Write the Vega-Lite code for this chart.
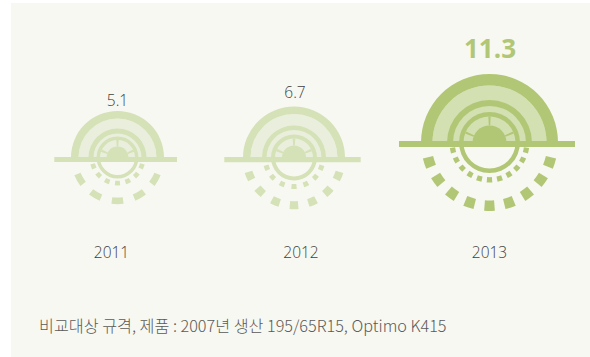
{"$schema":"https://vega.github.io/schema/vega-lite/v6.json","width":590,"height":357,"autosize":{"type":"fit","contains":"padding"},"padding":0,"background":"#ffffff","config":{"view":{"stroke":null}},
"datasets":{
"panel":[{"x0":11,"x1":590,"y0":3,"y1":357}],
"arcs":[
{"year":2011,"part":"fill","cx":117.5,"cy":157.5,"from":-90,"to":90,"inner":0,"outer":39,"tone":"pale"},
{"year":2011,"part":"band","cx":117.5,"cy":157.5,"from":-90,"to":90,"inner":39,"outer":46.5,"tone":"mid"},
{"year":2011,"part":"ring","cx":117.5,"cy":157.5,"from":-90,"to":90,"inner":24,"outer":29,"tone":"mid"},
{"year":2011,"part":"circle","cx":117.5,"cy":157.5,"from":-180,"to":180,"inner":17.5,"outer":21,"tone":"mid"},
{"year":2011,"part":"hub","cx":117.5,"cy":157.5,"from":-90,"to":90,"inner":0,"outer":11,"tone":"mid"},
{"year":2011,"part":"spoke","cx":117.5,"cy":157.5,"from":-71,"to":-63,"inner":11,"outer":17.5,"tone":"mid"},
{"year":2011,"part":"spoke","cx":117.5,"cy":157.5,"from":-4,"to":4,"inner":11,"outer":17.5,"tone":"mid"},
{"year":2011,"part":"spoke","cx":117.5,"cy":157.5,"from":63,"to":71,"inner":11,"outer":17.5,"tone":"mid"},
{"year":2011,"part":"big","cx":117.5,"cy":157.5,"from":112.5,"to":127.5,"inner":40,"outer":46.7,"tone":"mid"},
{"year":2011,"part":"big","cx":117.5,"cy":157.5,"from":142.5,"to":157.5,"inner":40,"outer":46.7,"tone":"mid"},
{"year":2011,"part":"big","cx":117.5,"cy":157.5,"from":172.5,"to":187.5,"inner":40,"outer":46.7,"tone":"mid"},
{"year":2011,"part":"big","cx":117.5,"cy":157.5,"from":202.5,"to":217.5,"inner":40,"outer":46.7,"tone":"mid"},
{"year":2011,"part":"big","cx":117.5,"cy":157.5,"from":232.5,"to":247.5,"inner":40,"outer":46.7,"tone":"mid"},
{"year":2011,"part":"small","cx":117.5,"cy":157.5,"from":104.5,"to":115.5,"inner":23.3,"outer":28,"tone":"mid"},
{"year":2011,"part":"small","cx":117.5,"cy":157.5,"from":127.5,"to":138.5,"inner":23.3,"outer":28,"tone":"mid"},
{"year":2011,"part":"small","cx":117.5,"cy":157.5,"from":151,"to":162,"inner":23.3,"outer":28,"tone":"mid"},
{"year":2011,"part":"small","cx":117.5,"cy":157.5,"from":174.5,"to":185.5,"inner":23.3,"outer":28,"tone":"mid"},
{"year":2011,"part":"small","cx":117.5,"cy":157.5,"from":198,"to":209,"inner":23.3,"outer":28,"tone":"mid"},
{"year":2011,"part":"small","cx":117.5,"cy":157.5,"from":221.5,"to":232.5,"inner":23.3,"outer":28,"tone":"mid"},
{"year":2011,"part":"small","cx":117.5,"cy":157.5,"from":244.5,"to":255.5,"inner":23.3,"outer":28,"tone":"mid"},
{"year":2012,"part":"fill","cx":294,"cy":157.5,"from":-90,"to":90,"inner":0,"outer":43.5,"tone":"pale"},
{"year":2012,"part":"band","cx":294,"cy":157.5,"from":-90,"to":90,"inner":43.5,"outer":51,"tone":"mid"},
{"year":2012,"part":"ring","cx":294,"cy":157.5,"from":-90,"to":90,"inner":27.5,"outer":32,"tone":"mid"},
{"year":2012,"part":"circle","cx":294,"cy":157.5,"from":-180,"to":180,"inner":19,"outer":23,"tone":"mid"},
{"year":2012,"part":"hub","cx":294,"cy":157.5,"from":-90,"to":90,"inner":0,"outer":12,"tone":"mid"},
{"year":2012,"part":"spoke","cx":294,"cy":157.5,"from":-71,"to":-63,"inner":12,"outer":19,"tone":"mid"},
{"year":2012,"part":"spoke","cx":294,"cy":157.5,"from":-4,"to":4,"inner":12,"outer":19,"tone":"mid"},
{"year":2012,"part":"spoke","cx":294,"cy":157.5,"from":63,"to":71,"inner":12,"outer":19,"tone":"mid"},
{"year":2012,"part":"big","cx":294,"cy":157.5,"from":107.5,"to":117.5,"inner":43.7,"outer":51.7,"tone":"mid"},
{"year":2012,"part":"big","cx":294,"cy":157.5,"from":130,"to":140,"inner":43.7,"outer":51.7,"tone":"mid"},
{"year":2012,"part":"big","cx":294,"cy":157.5,"from":152.5,"to":162.5,"inner":43.7,"outer":51.7,"tone":"mid"},
{"year":2012,"part":"big","cx":294,"cy":157.5,"from":175,"to":185,"inner":43.7,"outer":51.7,"tone":"mid"},
{"year":2012,"part":"big","cx":294,"cy":157.5,"from":197.5,"to":207.5,"inner":43.7,"outer":51.7,"tone":"mid"},
{"year":2012,"part":"big","cx":294,"cy":157.5,"from":220,"to":230,"inner":43.7,"outer":51.7,"tone":"mid"},
{"year":2012,"part":"big","cx":294,"cy":157.5,"from":242.5,"to":252.5,"inner":43.7,"outer":51.7,"tone":"mid"},
{"year":2012,"part":"small","cx":294,"cy":157.5,"from":105.5,"to":115.5,"inner":26.5,"outer":31.5,"tone":"mid"},
{"year":2012,"part":"small","cx":294,"cy":157.5,"from":127.5,"to":137.5,"inner":26.5,"outer":31.5,"tone":"mid"},
{"year":2012,"part":"small","cx":294,"cy":157.5,"from":151,"to":161,"inner":26.5,"outer":31.5,"tone":"mid"},
{"year":2012,"part":"small","cx":294,"cy":157.5,"from":175,"to":185,"inner":26.5,"outer":31.5,"tone":"mid"},
{"year":2012,"part":"small","cx":294,"cy":157.5,"from":199,"to":209,"inner":26.5,"outer":31.5,"tone":"mid"},
{"year":2012,"part":"small","cx":294,"cy":157.5,"from":222.5,"to":232.5,"inner":26.5,"outer":31.5,"tone":"mid"},
{"year":2012,"part":"small","cx":294,"cy":157.5,"from":244.5,"to":254.5,"inner":26.5,"outer":31.5,"tone":"mid"},
{"year":2013,"part":"fill","cx":489.5,"cy":142.5,"from":-90,"to":90,"inner":0,"outer":57,"tone":"light"},
{"year":2013,"part":"band","cx":489.5,"cy":142.5,"from":-90,"to":90,"inner":57,"outer":68.5,"tone":"dark"},
{"year":2013,"part":"ring","cx":489.5,"cy":142.5,"from":-90,"to":90,"inner":36.5,"outer":42.5,"tone":"dark"},
{"year":2013,"part":"circle","cx":489.5,"cy":142.5,"from":-180,"to":180,"inner":26,"outer":30.5,"tone":"dark"},
{"year":2013,"part":"hub","cx":489.5,"cy":142.5,"from":-90,"to":90,"inner":0,"outer":17,"tone":"dark"},
{"year":2013,"part":"spoke","cx":489.5,"cy":142.5,"from":-70,"to":-65,"inner":17,"outer":26,"tone":"dark"},
{"year":2013,"part":"spoke","cx":489.5,"cy":142.5,"from":-2.5,"to":2.5,"inner":17,"outer":26,"tone":"dark"},
{"year":2013,"part":"spoke","cx":489.5,"cy":142.5,"from":65,"to":70,"inner":17,"outer":26,"tone":"dark"},
{"year":2013,"part":"big","cx":489.5,"cy":142.5,"from":103.5,"to":112.5,"inner":58,"outer":68.5,"tone":"dark"},
{"year":2013,"part":"big","cx":489.5,"cy":142.5,"from":121.5,"to":130.5,"inner":58,"outer":68.5,"tone":"dark"},
{"year":2013,"part":"big","cx":489.5,"cy":142.5,"from":139.5,"to":148.5,"inner":58,"outer":68.5,"tone":"dark"},
{"year":2013,"part":"big","cx":489.5,"cy":142.5,"from":157.5,"to":166.5,"inner":58,"outer":68.5,"tone":"dark"},
{"year":2013,"part":"big","cx":489.5,"cy":142.5,"from":175.5,"to":184.5,"inner":58,"outer":68.5,"tone":"dark"},
{"year":2013,"part":"big","cx":489.5,"cy":142.5,"from":193.5,"to":202.5,"inner":58,"outer":68.5,"tone":"dark"},
{"year":2013,"part":"big","cx":489.5,"cy":142.5,"from":211.5,"to":220.5,"inner":58,"outer":68.5,"tone":"dark"},
{"year":2013,"part":"big","cx":489.5,"cy":142.5,"from":229.5,"to":238.5,"inner":58,"outer":68.5,"tone":"dark"},
{"year":2013,"part":"big","cx":489.5,"cy":142.5,"from":247.5,"to":256.5,"inner":58,"outer":68.5,"tone":"dark"},
{"year":2013,"part":"small","cx":489.5,"cy":142.5,"from":98,"to":106,"inner":34.7,"outer":40,"tone":"dark"},
{"year":2013,"part":"small","cx":489.5,"cy":142.5,"from":113.6,"to":121.6,"inner":34.7,"outer":40,"tone":"dark"},
{"year":2013,"part":"small","cx":489.5,"cy":142.5,"from":129.2,"to":137.2,"inner":34.7,"outer":40,"tone":"dark"},
{"year":2013,"part":"small","cx":489.5,"cy":142.5,"from":144.8,"to":152.8,"inner":34.7,"outer":40,"tone":"dark"},
{"year":2013,"part":"small","cx":489.5,"cy":142.5,"from":160.4,"to":168.4,"inner":34.7,"outer":40,"tone":"dark"},
{"year":2013,"part":"small","cx":489.5,"cy":142.5,"from":176,"to":184,"inner":34.7,"outer":40,"tone":"dark"},
{"year":2013,"part":"small","cx":489.5,"cy":142.5,"from":191.6,"to":199.6,"inner":34.7,"outer":40,"tone":"dark"},
{"year":2013,"part":"small","cx":489.5,"cy":142.5,"from":207.2,"to":215.2,"inner":34.7,"outer":40,"tone":"dark"},
{"year":2013,"part":"small","cx":489.5,"cy":142.5,"from":222.8,"to":230.8,"inner":34.7,"outer":40,"tone":"dark"},
{"year":2013,"part":"small","cx":489.5,"cy":142.5,"from":238.4,"to":246.4,"inner":34.7,"outer":40,"tone":"dark"},
{"year":2013,"part":"small","cx":489.5,"cy":142.5,"from":254,"to":262,"inner":34.7,"outer":40,"tone":"dark"}
],
"bases":[
{"year":2011,"x0":54.3,"x1":177,"y0":157,"y1":162,"tone":"mid"},
{"year":2012,"x0":224.3,"x1":360.7,"y0":157,"y1":162.3,"tone":"mid"},
{"year":2013,"x0":399,"x1":575,"y0":141,"y1":147,"tone":"dark"}
],
"values":[
{"year":2011,"value":"5.1","cx":117.5,"top":101},
{"year":2012,"value":"6.7","cx":295,"top":93}
],
"highlight":[{"year":2013,"value":"11.3","cx":490,"top":50}],
"years":[
{"year":"2011","cx":111.5,"cy":253},
{"year":"2012","cx":301,"cy":253},
{"year":"2013","cx":489.5,"cy":253}
],
"note":[{"text":"비교대상 규격, 제품 : 2007년 생산 195/65R15, Optimo K415","cx":39,"cy":326.5}]
},
"layer":[
{"data":{"name":"panel"},"mark":{"type":"rect","color":"#f7f8f1"},
 "encoding":{
  "x":{"field":"x0","type":"quantitative","axis":null,"scale":{"domain":[0,590],"range":[0,590],"nice":false,"zero":false}},"x2":{"field":"x1"},
  "y":{"field":"y0","type":"quantitative","axis":null,"scale":{"domain":[0,357],"range":[0,357],"nice":false,"zero":false}},"y2":{"field":"y1"}}},
{"data":{"name":"arcs"},"mark":{"type":"arc"},
 "encoding":{
  "x":{"field":"cx","type":"quantitative"},
  "y":{"field":"cy","type":"quantitative"},
  "theta":{"field":"from","type":"quantitative","stack":null,"scale":{"domain":[-360,360],"range":[-6.283185307,6.283185307],"nice":false,"zero":false}},
  "theta2":{"field":"to"},
  "radius":{"field":"outer","type":"quantitative","scale":{"type":"linear","domain":[0,100],"range":[0,100],"nice":false,"zero":false}},
  "radius2":{"field":"inner"},
  "color":{"field":"tone","type":"nominal","legend":null,"scale":{"domain":["dark","light","mid","pale"],"range":["#b2c776","#d3e0b2","#d5e1b6","#e9efdc"]}}}},
{"data":{"name":"bases"},"mark":{"type":"rect"},
 "encoding":{
  "x":{"field":"x0","type":"quantitative"},"x2":{"field":"x1"},
  "y":{"field":"y0","type":"quantitative"},"y2":{"field":"y1"},
  "color":{"field":"tone","type":"nominal","legend":null}}},
{"data":{"name":"values"},"mark":{"type":"text","font":"Open Sans","fontWeight":300,"fontSize":15.5,"color":"#404040","align":"center","baseline":"middle"},
 "encoding":{"x":{"field":"cx","type":"quantitative"},"y":{"field":"top","type":"quantitative"},"text":{"field":"value"}}},
{"data":{"name":"highlight"},"mark":{"type":"text","font":"Open Sans","fontWeight":"bold","fontSize":26,"color":"#b2c776","align":"center","baseline":"middle"},
 "encoding":{"x":{"field":"cx","type":"quantitative"},"y":{"field":"top","type":"quantitative"},"text":{"field":"value"}}},
{"data":{"name":"years"},"mark":{"type":"text","font":"Open Sans","fontWeight":300,"fontSize":15.5,"color":"#404040","align":"center","baseline":"middle"},
 "encoding":{"x":{"field":"cx","type":"quantitative"},"y":{"field":"cy","type":"quantitative"},"text":{"field":"year"}}},
{"data":{"name":"note"},"mark":{"type":"text","font":"Noto Sans CJK KR","fontWeight":300,"fontSize":16.2,"color":"#5a5a5a","align":"left","baseline":"middle"},
 "encoding":{"x":{"field":"cx","type":"quantitative"},"y":{"field":"cy","type":"quantitative"},"text":{"field":"text"}}}
]}
